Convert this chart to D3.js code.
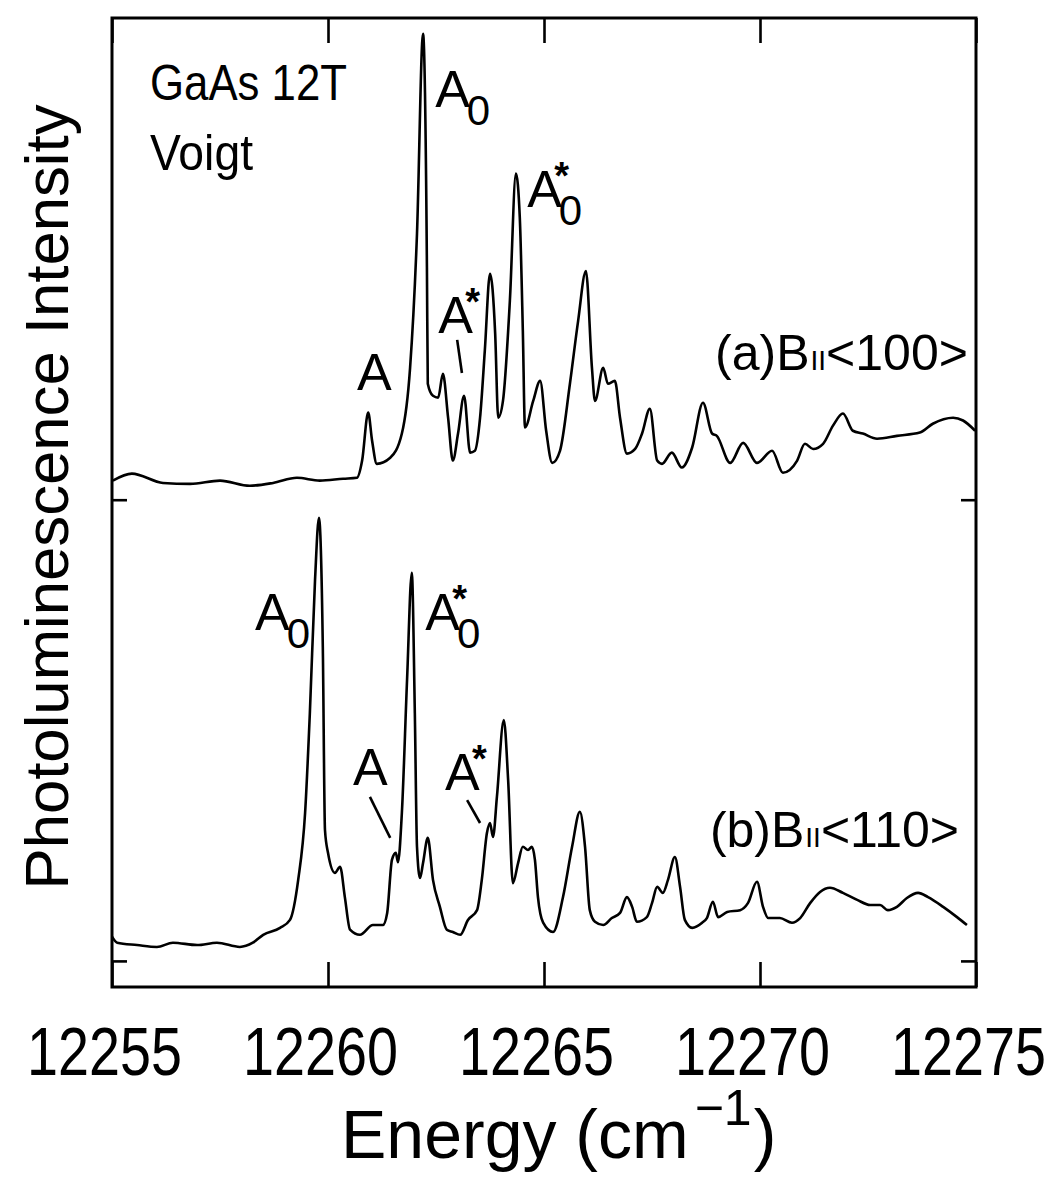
<!DOCTYPE html>
<meta charset="utf-8">
<style>
body { margin: 0; background: #fff; }
svg text { font-family: "Liberation Sans Narrow", "Liberation Sans", Arial, sans-serif; fill: #000; }
.trace { fill: none; stroke: #000; stroke-width: 2.6px; stroke-linejoin: round; }
.axis path { display: none; }
.axis line { stroke: #000; stroke-width: 2.6px; }
</style>
<body>
<script src="https://d3js.org/d3.v7.min.js"></script>
<script>
// spectrum (a) B || <100>, energy in cm^-1, intensity in arb. units above its own baseline
var energyA = [12255.02,12255.46,12256.18,12256.81,12257.50,12258.19,12258.73,12259.28,12259.81,12260.35,
  12260.67,12260.79,12260.93,12261.02,12261.13,12261.44,12261.71,12261.90,12262.06,12262.20,
  12262.29,12262.31,12262.43,12262.55,12262.66,12262.78,12262.89,12263.01,12263.15,12263.29,
  12263.40,12263.52,12263.63,12263.75,12263.87,12263.94,12264.05,12264.21,12264.35,12264.44,
  12264.51,12264.56,12264.75,12264.91,12265.05,12265.19,12265.37,12265.60,12265.79,12265.97,
  12266.11,12266.18,12266.37,12266.48,12266.64,12266.76,12266.92,12267.11,12267.27,12267.45,
  12267.62,12267.73,12267.96,12268.19,12268.43,12268.68,12268.89,12269.00,12269.31,12269.61,
  12269.93,12270.28,12270.53,12270.86,12271.04,12271.23,12271.46,12271.69,12271.92,12272.15,
  12272.38,12272.71,12273.17,12273.70,12274.00,12274.47,12274.70,12274.98];
var intensityA = [4.1,5.6,3.6,3.4,4.1,3.0,3.6,4.7,4.1,4.5,
  4.7,8.4,18.7,12.7,7.7,9.0,14.2,28.3,57.1,100,
  49.8,24.9,22.3,21.9,27.0,17.6,8.4,14.2,22.3,10.1,
  10.5,17.6,32.0,48.5,35.6,17.6,21.2,42.7,70.0,60.5,
  36.3,15.5,21.2,25.5,14.8,7.9,10.5,24.9,38.4,49.1,
  28.3,21.2,28.3,24.9,25.5,17.6,9.9,10.9,14.2,19.5,
  8.4,7.7,10.1,6.9,11.2,20.8,14.2,13.7,7.9,12.2,
  7.9,10.5,5.8,8.4,12.0,10.9,12.0,15.9,18.5,14.8,
  14.2,13.1,13.7,14.4,16.3,17.6,17.0,14.8];

// spectrum (b) B || <110>
var energyB = [12255.00,12255.12,12255.58,12256.04,12256.41,12256.97,12257.43,12257.96,12258.26,12258.50,
  12258.89,12259.12,12259.31,12259.47,12259.58,12259.70,12259.79,12259.88,12259.93,12260.00,
  12260.16,12260.28,12260.39,12260.51,12260.74,12261.04,12261.27,12261.37,12261.48,12261.57,
  12261.62,12261.71,12261.83,12261.94,12262.01,12262.06,12262.13,12262.20,12262.31,12262.43,
  12262.59,12262.75,12262.89,12263.06,12263.24,12263.45,12263.56,12263.68,12263.75,12263.82,
  12263.91,12264.07,12264.17,12264.28,12264.40,12264.51,12264.63,12264.72,12264.79,12264.86,
  12264.98,12265.21,12265.44,12265.65,12265.83,12265.95,12266.06,12266.18,12266.37,12266.57,
  12266.76,12266.92,12267.04,12267.15,12267.38,12267.50,12267.62,12267.75,12267.87,12268.03,
  12268.15,12268.26,12268.43,12268.66,12268.77,12268.91,12269.03,12269.24,12269.54,12269.72,
  12269.93,12270.07,12270.19,12270.46,12270.74,12270.93,12271.16,12271.39,12271.62,12271.92,
  12272.25,12272.55,12272.78,12272.96,12273.17,12273.40,12273.66,12273.89,12274.24,12274.56,
  12274.79];
var intensityB = [5.2,3.9,3.4,3.0,3.9,3.4,3.9,3.0,3.9,5.6,
  7.1,8.8,17.4,31.8,53.2,81.8,95.1,67.4,28.1,23.2,
  18.9,20.2,13.7,6.7,5.6,7.7,7.7,10.3,21.7,23.2,
  21.2,31.8,60.3,83.3,53.2,24.5,17.8,21.0,26.4,17.4,
  11.6,6.7,6.2,5.6,8.8,10.9,17.4,27.5,29.6,26.6,
  35.2,51.7,38.8,16.7,21.0,24.5,23.8,24.5,21.7,13.7,
  8.2,6.2,13.7,24.5,32.0,24.5,10.9,8.4,7.7,9.2,
  10.3,13.7,11.6,8.4,9.4,12.4,15.9,14.6,17.4,22.3,
  15.9,8.8,7.1,8.2,9.2,12.7,9.4,10.5,10.9,12.4,
  17.0,11.6,9.2,9.2,8.2,9.2,12.4,14.8,15.7,14.6,
  13.1,12.0,12.0,10.9,11.6,13.5,14.6,13.7,11.6,9.4,
  7.7];

var offsetA = 99, offsetB = 0;   // vertical stacking of the two spectra
var xTicks = [12255, 12260, 12265, 12270, 12275];

// labels: [text, subscript, star, energy, plot y]
var labels = [
  ["A", "0", false, 12262.48, 183.3],
  ["A", "", false, 12260.67, 122.5],
  ["A", "", true, 12262.55, 134.8],
  ["A", "0", true, 12264.61, 161.8],
  ["A", "0", false, 12258.31, 71.0],
  ["A", "0", true, 12262.25, 71.0],
  ["A", "", false, 12260.58, 37.8],
  ["A", "", true, 12262.71, 36.7]
];
var leaders = [
  [12262.99, 133.3, 12263.10, 126.2],
  [12260.97, 35.2, 12261.44, 26.4],
  [12263.22, 34.5, 12263.52, 29.6]
];
var captions = [
  ["(a)B", "<100>", 12268.96, 126.8],
  ["(b)B", "<110>", 12268.84, 24.4]
];

var width = 1059, height = 1181;
var mLeft = 112, mRight = 976, mTop = 18, mBottom = 987;

var svg = d3.select("body").append("svg")
    .attr("width", width)
    .attr("height", height);

var x = d3.scaleLinear().domain([12255, 12275]).range([mLeft, mRight]);
var y = d3.scaleLinear().domain([-5.6, 202.4]).range([mBottom, mTop]);

// frame
svg.append("rect")
    .attr("x", mLeft).attr("y", mTop)
    .attr("width", mRight - mLeft).attr("height", mBottom - mTop)
    .attr("fill", "none").attr("stroke", "#000").attr("stroke-width", 3);

// ticks
svg.append("g").attr("class", "axis")
    .attr("transform", "translate(0," + mBottom + ")")
    .call(d3.axisBottom(x).tickValues(xTicks).tickSizeInner(-25).tickSizeOuter(0)
        .tickPadding(40).tickFormat(d3.format("d")))
  .selectAll("text")
    .attr("font-size", 68)
    .attr("dx", -8)
    .attr("textLength", 155)
    .attr("lengthAdjust", "spacingAndGlyphs");

svg.append("g").attr("class", "axis")
    .attr("transform", "translate(0," + mTop + ")")
    .call(d3.axisTop(x).tickValues(xTicks).tickSizeInner(-25).tickSizeOuter(0).tickFormat(""));

svg.append("g").attr("class", "axis")
    .attr("transform", "translate(" + mLeft + ",0)")
    .call(d3.axisLeft(y).tickValues([offsetB, offsetA]).tickSizeInner(-15).tickSizeOuter(0).tickFormat(""));

svg.append("g").attr("class", "axis")
    .attr("transform", "translate(" + mRight + ",0)")
    .call(d3.axisRight(y).tickValues([offsetB, offsetA]).tickSizeInner(-15).tickSizeOuter(0).tickFormat(""));

// spectra
var line = d3.line()
    .x(function(d) { return x(d[0]); })
    .y(function(d) { return y(d[1]); })
    .curve(d3.curveMonotoneX);

svg.append("path").attr("class", "trace")
    .attr("d", line(energyA.map(function(e, i) { return [e, intensityA[i] + offsetA]; })));
svg.append("path").attr("class", "trace")
    .attr("d", line(energyB.map(function(e, i) { return [e, intensityB[i] + offsetB]; })));

// peak labels
labels.forEach(function(l) {
  var px = x(l[3]), py = y(l[4]);
  var t = svg.append("text").attr("x", px).attr("y", py).attr("font-size", 52);
  t.append("tspan").text(l[0]);
  if (l[1]) t.append("tspan").attr("font-size", 42).attr("dx", -3).attr("dy", 18).text(l[1]);
  if (l[2]) svg.append("text").attr("x", px + 27).attr("y", py - 18)
      .attr("font-size", 38).attr("font-weight", "bold").text("*");
});

svg.selectAll(".leader").data(leaders).enter().append("line")
    .attr("class", "leader")
    .attr("x1", function(d) { return x(d[0]); })
    .attr("y1", function(d) { return y(d[1]); })
    .attr("x2", function(d) { return x(d[2]); })
    .attr("y2", function(d) { return y(d[3]); })
    .attr("stroke", "#000").attr("stroke-width", 2.6);

captions.forEach(function(c) {
  var t = svg.append("text").attr("x", x(c[2])).attr("y", y(c[3])).attr("font-size", 50);
  t.append("tspan").text(c[0]);
  t.append("tspan").attr("font-size", 28).attr("dx", 1).text("II");
  t.append("tspan").text(c[1]);
});

// sample info
svg.append("text").attr("x", x(12255.88)).attr("y", y(184.8)).attr("font-size", 50)
    .attr("textLength", 197).attr("lengthAdjust", "spacingAndGlyphs").text("GaAs  12T");
svg.append("text").attr("x", x(12255.88)).attr("y", y(169.8)).attr("font-size", 50)
    .attr("textLength", 103).attr("lengthAdjust", "spacingAndGlyphs").text("Voigt");

// axis titles
var xt = svg.append("text").attr("x", 341).attr("y", 1158).attr("font-size", 68);
xt.append("tspan").text("Energy (cm");
xt.append("tspan").attr("font-size", 50).attr("dx", 6).attr("dy", -33).text("\u22121");
xt.append("tspan").attr("dy", 33).attr("dx", 2).text(")");

svg.append("text")
    .attr("transform", "translate(68,497) rotate(-90)")
    .attr("text-anchor", "middle")
    .attr("font-size", 62)
    .attr("textLength", 785)
    .attr("lengthAdjust", "spacingAndGlyphs")
    .text("Photoluminescence Intensity");
</script>
</body>
</html>
